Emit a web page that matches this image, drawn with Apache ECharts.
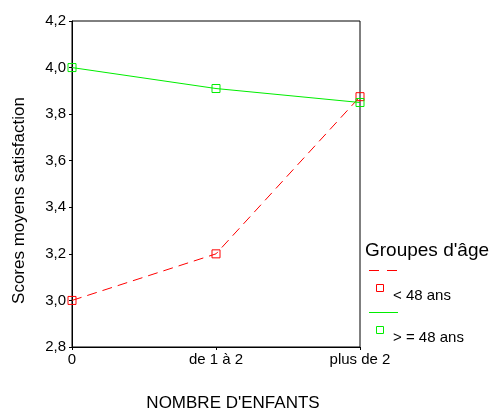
<!DOCTYPE html>
<html>
<head>
<meta charset="utf-8">
<script src="https://cdn.jsdelivr.net/npm/echarts@6/dist/echarts.min.js"></script>
<style>
html,body{margin:0;padding:0;background:#fff;}
#c{width:497px;height:412px;}
</style>
</head>
<body>
<div id="c"></div>
<script>
var categories = ['0', 'de 1 à 2', 'plus de 2'];
var seriesNames = ['< 48 ans', '> = 48 ans'];
var youngScores = [3.0, 3.2, 3.875];
var olderScores = [4.0, 3.91, 3.85];
var legendTitle = "Groupes d'âge";
var xTitle = "NOMBRE D'ENFANTS";
var yTitle = 'Scores moyens satisfaction';

var RED = '#ff0000';
var GREEN = '#00ee00';
var FONT = 'Liberation Sans, Arial, sans-serif';

var chart = echarts.init(document.getElementById('c'), null, {renderer: 'canvas'});

function sym(color) {
  return {color: 'rgba(0,0,0,0)', borderColor: color, borderWidth: 1};
}

chart.setOption({
  animation: false,
  backgroundColor: '#fff',
  grid: {
    left: 72, top: 21, width: 288, height: 326,
    containLabel: false,
    outerBoundsMode: 'none',
    show: true, borderColor: '#000', borderWidth: 1, backgroundColor: 'transparent'
  },
  xAxis: {
    type: 'category',
    data: categories,
    boundaryGap: false,
    name: xTitle,
    nameLocation: 'middle',
    nameGap: 48,
    nameTextStyle: {fontFamily: FONT, fontSize: 17, color: '#000', padding: [0, 0, 0, 34]},
    axisLine: {lineStyle: {color: '#000', width: 1}},
    axisTick: {show: true, length: 3, lineStyle: {color: '#000'}},
    axisLabel: {fontFamily: FONT, fontSize: 15, color: '#000', margin: 5},
    splitLine: {show: false}
  },
  yAxis: {
    type: 'value',
    min: 2.8, max: 4.2, interval: 0.2,
    name: yTitle,
    nameLocation: 'middle',
    nameGap: 44,
    nameRotate: 90,
    nameTextStyle: {fontFamily: FONT, fontSize: 17, color: '#000', padding: [0, 33, 0, 0]},
    axisLine: {show: true, lineStyle: {color: '#000', width: 1}},
    axisTick: {show: true, length: 3, lineStyle: {color: '#000'}},
    axisLabel: {
      fontFamily: FONT, fontSize: 15, color: '#000', margin: 6,
      formatter: function (v) { return v.toFixed(1).replace('.', ','); }
    },
    splitLine: {show: false}
  },
  series: [
    {
      name: seriesNames[0], type: 'line', data: youngScores,
      symbol: 'rect', symbolSize: 8, clip: false,
      lineStyle: {color: RED, width: 1, type: [10, 6]},
      itemStyle: sym(RED)
    },
    {
      name: seriesNames[1], type: 'line', data: olderScores,
      symbol: 'rect', symbolSize: 8, clip: false,
      lineStyle: {color: GREEN, width: 1, type: 'solid'},
      itemStyle: sym(GREEN)
    }
  ],
  graphic: [
    {type: 'text', left: 365, top: 241, style: {text: legendTitle, font: '19px ' + FONT, fill: '#000'}},
    {type: 'line', shape: {x1: 369, y1: 270.5, x2: 398, y2: 270.5}, style: {stroke: RED, lineWidth: 1, lineDash: [10, 8]}},
    {type: 'rect', shape: {x: 376.5, y: 284.5, width: 7, height: 7}, style: {stroke: RED, fill: 'none', lineWidth: 1}},
    {type: 'text', left: 393, top: 288, style: {text: seriesNames[0], font: '15px ' + FONT, fill: '#000'}},
    {type: 'line', shape: {x1: 369, y1: 312.5, x2: 398, y2: 312.5}, style: {stroke: GREEN, lineWidth: 1}},
    {type: 'rect', shape: {x: 376.5, y: 326.5, width: 7, height: 7}, style: {stroke: GREEN, fill: 'none', lineWidth: 1}},
    {type: 'text', left: 393, top: 330, style: {text: seriesNames[1], font: '15px ' + FONT, fill: '#000'}}
  ]
});
</script>
</body>
</html>
